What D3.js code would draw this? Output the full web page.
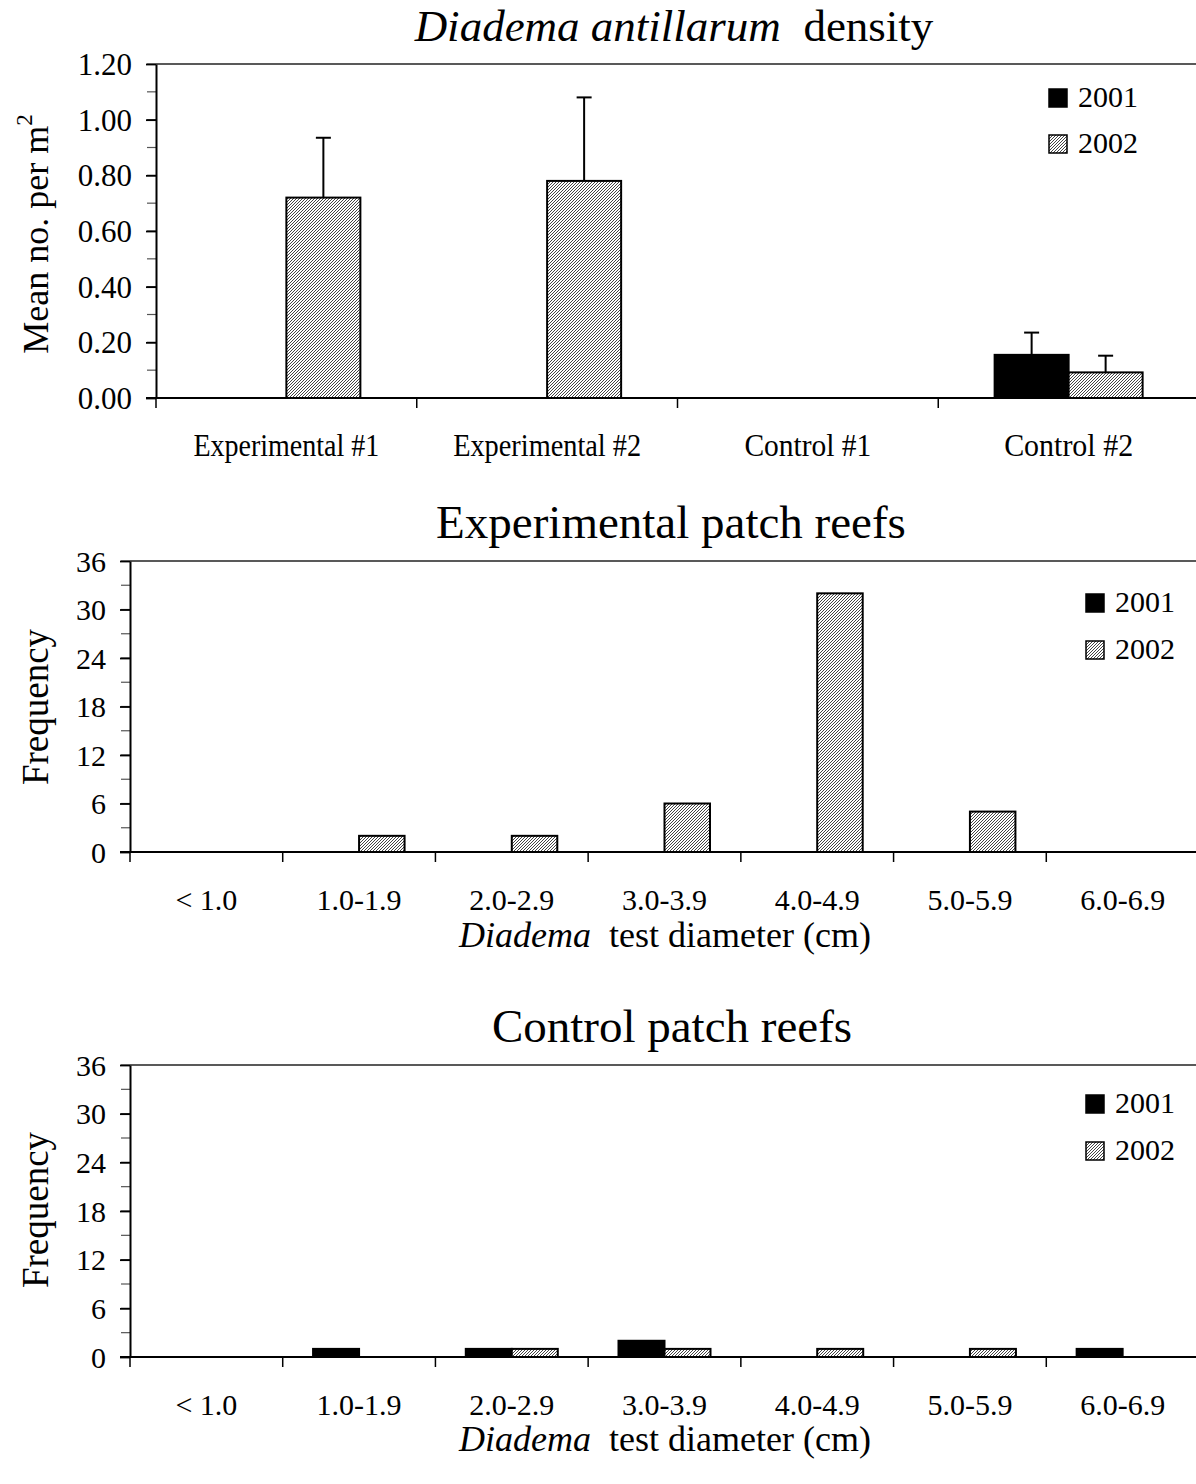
<!DOCTYPE html>
<html><head><meta charset="utf-8">
<script src="https://cdnjs.cloudflare.com/ajax/libs/d3/7.8.5/d3.min.js"></script>
<style>
html,body{margin:0;padding:0;background:#fff;overflow:hidden;}
svg{display:block;font-family:"Liberation Serif","Times New Roman",serif;}
</style></head>
<body>
<svg id="chart" width="1196" height="1484"></svg>
<script>
// ---------- DATA ----------
const years = ["2001", "2002"];

const densitySites = ["Experimental #1", "Experimental #2", "Control #1", "Control #2"];
const density2001 = [0, 0, 0, 0.155];
const density2002 = [0.72, 0.78, 0, 0.092];
const densityErr2001 = [0, 0, 0, 0.08];
const densityErr2002 = [0.215, 0.30, 0, 0.06];
const densityTicks = [0, 0.2, 0.4, 0.6, 0.8, 1.0, 1.2];

const sizeClasses = ["< 1.0", "1.0-1.9", "2.0-2.9", "3.0-3.9", "4.0-4.9", "5.0-5.9", "6.0-6.9"];
const expFreq2001 = [0, 0, 0, 0, 0, 0, 0];
const expFreq2002 = [0, 2, 2, 6, 32, 5, 0];
const ctrlFreq2001 = [0, 1, 1, 2, 0, 0, 1];
const ctrlFreq2002 = [0, 0, 1, 1, 1, 1, 0];
const freqTicks = [0, 6, 12, 18, 24, 30, 36];

// ---------- SETUP ----------
const svg = d3.select("#chart");
const defs = svg.append("defs");
const pat = defs.append("pattern").attr("id", "hatch").attr("patternUnits", "userSpaceOnUse")
  .attr("width", 3).attr("height", 3);
pat.append("rect").attr("width", 3).attr("height", 3).attr("fill", "#fff");
pat.append("path").attr("d", "M-1,1 l2,-2 M0,3 l3,-3 M2,4 l2,-2")
  .attr("stroke", "#222").attr("stroke-width", 0.85);

const fills = {"2001": "#000", "2002": "url(#hatch)"};

function panel(opt) {
  const g = svg.append("g");
  const x = d3.scaleBand().domain(opt.cats).range([opt.left, opt.right]);
  const y = d3.scaleLinear().domain(opt.domain).range([opt.bottom, opt.top]);
  const half = opt.barW;
  const xi = d3.scaleBand().domain(years).range([-half, half]);

  // top frame line
  g.append("line").attr("x1", opt.left).attr("x2", opt.right)
    .attr("y1", opt.top).attr("y2", opt.top).attr("stroke", "#222").attr("stroke-width", 1.6);

  // minor ticks
  const minor = d3.range(opt.domain[0], opt.domain[1] + 1e-9, opt.minorStep);
  g.selectAll(".minor").data(minor).join("line")
    .attr("x1", opt.left - 9).attr("x2", opt.left)
    .attr("y1", d => y(d)).attr("y2", d => y(d))
    .attr("stroke", "#555").attr("stroke-width", 1.2);

  // y axis
  const ya = d3.axisLeft(y).tickValues(opt.ticks).tickSize(10).tickSizeOuter(0)
    .tickFormat(opt.fmt).tickPadding(opt.yPad);
  const yg = g.append("g").attr("transform", `translate(${opt.left},0)`).call(ya);
  yg.select(".domain").attr("stroke", "#000").attr("stroke-width", 2);
  yg.selectAll(".tick line").attr("stroke", "#000").attr("stroke-width", 1.8);
  yg.selectAll(".tick text").attr("font-size", opt.yFont).attr("fill", "#000")
    .attr("font-family", "Liberation Serif, Times New Roman, serif").attr("dy", "0.34em");

  // bars
  const rows = [];
  opt.cats.forEach((c, i) => {
    years.forEach((yr, j) => {
      rows.push({cat: c, year: yr, v: opt.series[j][i], e: opt.errs ? opt.errs[j][i] : 0});
    });
  });
  const cx = c => x(c) + x.bandwidth() / 2;
  g.selectAll(".bar").data(rows.filter(d => d.v > 0)).join("rect")
    .attr("x", d => cx(d.cat) + xi(d.year))
    .attr("width", xi.bandwidth())
    .attr("y", d => y(d.v)).attr("height", d => y(0) - y(d.v))
    .attr("fill", d => fills[d.year]).attr("stroke", "#000").attr("stroke-width", 2);

  // error bars
  if (opt.errs) {
    const eb = rows.filter(d => d.e > 0);
    g.selectAll(".ev").data(eb).join("line")
      .attr("x1", d => cx(d.cat) + xi(d.year) + xi.bandwidth() / 2)
      .attr("x2", d => cx(d.cat) + xi(d.year) + xi.bandwidth() / 2)
      .attr("y1", d => y(d.v)).attr("y2", d => y(d.v + d.e))
      .attr("stroke", "#000").attr("stroke-width", 2);
    g.selectAll(".ec").data(eb).join("line")
      .attr("x1", d => cx(d.cat) + xi(d.year) + xi.bandwidth() / 2 - 7.5)
      .attr("x2", d => cx(d.cat) + xi(d.year) + xi.bandwidth() / 2 + 7.5)
      .attr("y1", d => y(d.v + d.e)).attr("y2", d => y(d.v + d.e))
      .attr("stroke", "#000").attr("stroke-width", 2);
  }

  // x axis (ticks at band boundaries)
  const bounds = opt.cats.map(c => x(c)).concat([opt.right]);
  g.selectAll(".xt").data(bounds).join("line")
    .attr("x1", d => d).attr("x2", d => d)
    .attr("y1", opt.bottom).attr("y2", opt.bottom + 10)
    .attr("stroke", "#000").attr("stroke-width", 1.5);
  g.append("line").attr("x1", opt.left - 10).attr("x2", opt.right)
    .attr("y1", opt.bottom).attr("y2", opt.bottom).attr("stroke", "#000").attr("stroke-width", 2);
  const xl = g.selectAll(".xl").data(opt.cats).join("text")
    .attr("x", d => cx(d)).attr("y", opt.xLabelY)
    .attr("text-anchor", "middle").attr("font-size", opt.xFont).text(d => d);
  if (opt.xLabelLen) {
    xl.attr("textLength", (d, i) => opt.xLabelLen[i]).attr("lengthAdjust", "spacingAndGlyphs");
  }

  // legend
  years.forEach((yr, j) => {
    const ly = opt.legY + j * opt.legGap;
    g.append("rect").attr("x", opt.legX).attr("y", ly - 18).attr("width", 18).attr("height", 18)
      .attr("fill", fills[yr]).attr("stroke", "#000").attr("stroke-width", 1.5);
    g.append("text").attr("x", opt.legX + 29).attr("y", ly).attr("font-size", 30).text(yr);
  });
  return g;
}

// ---------- PANEL 1: density ----------
panel({
  cats: densitySites, left: 156, right: 1199, top: 64, bottom: 398,
  domain: [0, 1.2], ticks: densityTicks, minorStep: 0.1, fmt: d3.format(".2f"),
  yFont: 31, yPad: 14, barW: 74,
  series: [density2001, density2002], errs: [densityErr2001, densityErr2002],
  xLabelY: 456, xFont: 31, xLabelLen: [186, 188, 127, 129],
  legX: 1049, legY: 107, legGap: 46
});
svg.append("text").attr("x", 674).attr("y", 41).attr("text-anchor", "middle").attr("font-size", 45)
  .call(t => {
    t.append("tspan").attr("font-style", "italic").text("Diadema antillarum");
    t.append("tspan").text("\u00a0 density");
  });
svg.append("text").attr("transform", "translate(48,234) rotate(-90)").attr("text-anchor", "middle")
  .attr("font-size", 36)
  .call(t => {
    t.append("tspan").text("Mean no. per m");
    t.append("tspan").attr("font-size", 23).attr("dy", -16).text("2");
  });

// ---------- PANEL 2: experimental ----------
panel({
  cats: sizeClasses, left: 130, right: 1199, top: 561, bottom: 852,
  domain: [0, 36], ticks: freqTicks, minorStep: 3, fmt: d3.format("d"),
  yFont: 30, yPad: 14, barW: 45.5,
  series: [expFreq2001, expFreq2002], errs: null,
  xLabelY: 910, xFont: 30,
  legX: 1086, legY: 612, legGap: 47
});
svg.append("text").attr("x", 671).attr("y", 538).attr("text-anchor", "middle").attr("font-size", 47)
  .text("Experimental patch reefs");
svg.append("text").attr("x", 665).attr("y", 947).attr("text-anchor", "middle").attr("font-size", 36)
  .call(t => {
    t.append("tspan").attr("font-style", "italic").text("Diadema");
    t.append("tspan").text("\u00a0 test diameter (cm)");
  });
svg.append("text").attr("transform", "translate(48,707) rotate(-90)").attr("text-anchor", "middle")
  .attr("font-size", 37).text("Frequency");

// ---------- PANEL 3: control ----------
panel({
  cats: sizeClasses, left: 130, right: 1199, top: 1065, bottom: 1357,
  domain: [0, 36], ticks: freqTicks, minorStep: 3, fmt: d3.format("d"),
  yFont: 30, yPad: 14, barW: 46,
  series: [ctrlFreq2001, ctrlFreq2002], errs: null,
  xLabelY: 1415, xFont: 30,
  legX: 1086, legY: 1113, legGap: 47
});
svg.append("text").attr("x", 672).attr("y", 1042).attr("text-anchor", "middle").attr("font-size", 47)
  .text("Control patch reefs");
svg.append("text").attr("x", 665).attr("y", 1451).attr("text-anchor", "middle").attr("font-size", 36)
  .call(t => {
    t.append("tspan").attr("font-style", "italic").text("Diadema");
    t.append("tspan").text("\u00a0 test diameter (cm)");
  });
svg.append("text").attr("transform", "translate(48,1210) rotate(-90)").attr("text-anchor", "middle")
  .attr("font-size", 37).text("Frequency");
</script>
</body></html>
